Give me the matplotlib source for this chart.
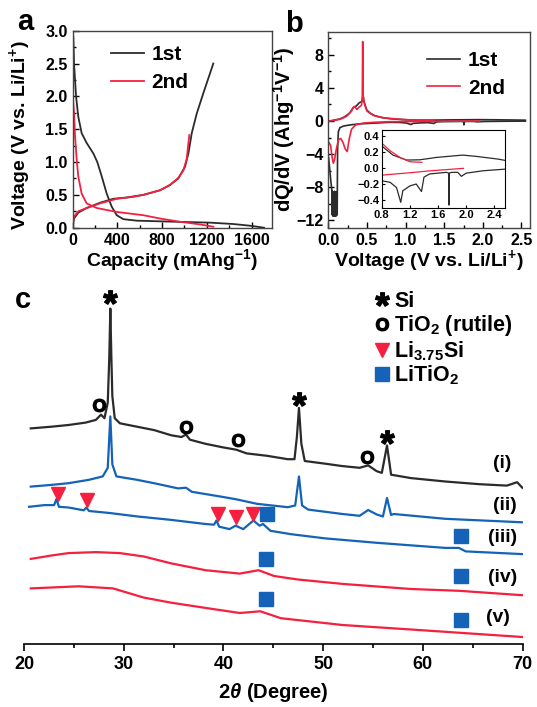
import matplotlib
matplotlib.use("Agg")
import matplotlib.pyplot as plt
from matplotlib.ticker import MultipleLocator
from matplotlib.lines import Line2D

plt.rcParams["font.family"] = "Liberation Sans"
plt.rcParams["font.weight"] = "bold"
plt.rcParams["axes.labelweight"] = "bold"
plt.rcParams["mathtext.fontset"] = "custom"
plt.rcParams["mathtext.rm"] = "Liberation Sans:bold"
plt.rcParams["mathtext.bf"] = "Liberation Sans:bold"
plt.rcParams["mathtext.it"] = "Liberation Sans:italic:bold"
plt.rcParams["mathtext.default"] = "bf"

BLACK = "#2b2b2b"
RED = "#f5203f"
BLUE = "#1463b8"

# ---- panel a: galvanostatic curves ----
cap_dis1 = [0, 6, 12, 30, 50, 80, 125, 185, 220, 260, 304, 349, 394, 453, 573, 931, 1229, 1437, 1587, 1712]
v_dis1 = [2.98, 2.9, 2.5, 2.0, 1.69, 1.44, 1.29, 1.13, 1.0, 0.78, 0.52, 0.32, 0.19, 0.13, 0.107, 0.09, 0.077, 0.056, 0.03, 0.0]
cap_ch1 = [0, 12, 50, 125, 244, 363, 483, 632, 781, 870, 945, 1005, 1035, 1065, 1110, 1169, 1258]
v_ch1 = [0.02, 0.14, 0.23, 0.3, 0.38, 0.44, 0.46, 0.5, 0.57, 0.65, 0.75, 0.93, 1.13, 1.44, 1.74, 2.05, 2.5]
cap_dis2 = [0, 12, 21, 36, 50, 80, 125, 215, 394, 632, 781, 960, 1139, 1258]
v_dis2 = [2.02, 1.74, 1.39, 1.03, 0.78, 0.52, 0.37, 0.3, 0.24, 0.19, 0.14, 0.09, 0.05, 0.015]
cap_ch2 = [0, 12, 50, 125, 244, 394, 542, 632, 781, 870, 945, 990, 1020, 1043]
v_ch2 = [0.07, 0.17, 0.25, 0.3, 0.37, 0.44, 0.47, 0.5, 0.57, 0.65, 0.76, 0.87, 1.05, 1.41]

# ---- panel b: differential capacity ----
v_ch1b = [0.01, 0.05, 0.1, 0.15, 0.2, 0.24, 0.28, 0.3, 0.33, 0.36, 0.38, 0.4, 0.42, 0.44, 0.45,
          0.46, 0.48, 0.5, 0.55, 0.6, 0.7, 0.8, 0.96, 1.15, 1.34, 1.58, 1.95, 2.14, 2.45, 2.55]
dq_ch1b = [0.0, 0.05, 0.15, 0.25, 0.45, 0.7, 1.0, 1.3, 1.7, 1.8, 2.0, 2.2, 2.3, 2.4, 3.2,
           2.4, 1.8, 1.3, 0.9, 0.65, 0.4, 0.28, 0.166, 0.104, 0.107, 0.137, 0.166, 0.15, 0.116, 0.1]
v_ch2b = [0.02, 0.05, 0.1, 0.15, 0.2, 0.24, 0.27, 0.3, 0.32, 0.34, 0.37, 0.4, 0.43, 0.44,
          0.445, 0.45, 0.47, 0.5, 0.58, 0.65, 0.75, 0.8, 0.92, 1.06, 1.2, 1.37]
dq_ch2b = [0.0, 0.05, 0.12, 0.2, 0.4, 0.6, 0.9, 1.2, 1.6, 1.75, 1.4, 1.7, 1.9, 3.0,
           9.6, 3.0, 2.0, 1.2, 0.7, 0.5, 0.35, 0.316, 0.22, 0.137, 0.083, 0.075]
v_dis2b = [1.96, 1.5, 1.2, 0.8, 0.6, 0.45, 0.35, 0.3, 0.27, 0.245, 0.22, 0.19, 0.16, 0.13,
           0.1, 0.08, 0.065, 0.05, 0.03, 0.01]
dq_dis2b = [0.0, -0.03, -0.055, -0.085, -0.15, -0.25, -0.5, -1.0, -2.2, -3.7, -3.4, -2.6, -2.1, -2.3,
            -3.6, -4.7, -5.1, -4.4, -3.0, -2.6]
v_dis1b = [2.55, 2.24, 2.0, 1.93, 1.88, 1.79, 1.76, 1.755, 1.75, 1.72, 1.48, 1.4, 1.365, 1.34,
           1.29, 1.2, 1.1, 1.07, 1.01, 0.92, 0.8, 0.6, 0.4, 0.3, 0.2, 0.15, 0.13, 0.12,
           0.115, 0.112, 0.109, 0.106, 0.103, 0.1, 0.097, 0.094, 0.091, 0.088, 0.085, 0.082,
           0.079, 0.076, 0.073, 0.07, 0.067, 0.064, 0.061, 0.058, 0.055, 0.052, 0.049,
           0.045, 0.03, 0.02, 0.01, 0.003]
dq_dis1b = [-0.01, -0.03, -0.06, -0.1, -0.05, -0.05, -0.06, -0.46, -0.06, -0.05, -0.07, -0.11, -0.29, -0.26,
            -0.196, -0.22, -0.28, -0.425, -0.24, -0.175, -0.155, -0.25, -0.35, -0.45, -0.6, -0.8, -1.3, -3.5,
            -11.2, -8.6, -11.4, -8.6, -11.4, -8.7, -11.5, -8.6, -11.5, -8.6, -11.4, -8.5,
            -11.4, -8.6, -11.5, -8.7, -11.4, -8.6, -11.5, -8.6, -11.4, -8.5, -11.3,
            -8.3, -7.0, -6.0, -5.0, -4.4]

# ---- panel c: XRD patterns (offset, a.u.) ----
tt_i = [20.68, 22.75, 24.46, 26.18, 27.21, 27.72, 28.07, 28.4, 28.55, 28.66, 28.76, 28.86, 29.1, 29.62,
        31.33, 33.05, 34.77, 35.8, 36.25, 36.65, 38.2, 39.92, 41.29, 42.33, 44.38, 46.45, 47.13,
        47.37, 47.58, 47.82, 48.16, 50.22, 51.94, 53.66, 54.52, 55.38, 55.89, 56.41, 56.82,
        58.82, 62.25, 65.69, 68.43, 69.46, 69.98]
y_i = [21.56, 21.73, 21.9, 22.14, 22.41, 22.93, 22.58, 24.13, 28.5, 33.54, 28.8, 24.81, 22.58, 22.07,
       21.73, 21.39, 20.87, 20.7, 20.94, 20.43, 20.02, 19.67, 19.43, 19.06, 18.82, 18.48, 18.48,
       20.7, 23.61, 20.02, 18.3, 18.03, 17.79, 17.62, 17.86, 17.28, 17.11, 19.85, 16.93,
       16.59, 16.25, 15.98, 15.84, 16.18, 15.63]
tt_ii = [20.68, 22.75, 24.46, 26.52, 27.9, 28.4, 28.66, 28.86, 29.27, 31.33, 33.05, 35.45, 36.25, 36.83,
         39.92, 41.29, 43.35, 46.45, 47.2, 47.58, 47.89, 48.51, 51.94, 53.66, 54.52, 55.38, 56.0,
         56.41, 56.82, 57.09, 62.25, 69.98]
y_ii = [15.74, 15.91, 16.08, 16.42, 16.76, 17.62, 22.76, 17.96, 16.76, 16.42, 16.08, 15.56, 15.63, 15.22,
        14.71, 14.47, 14.02, 13.68, 13.85, 16.76, 13.85, 13.44, 13.0, 12.82, 13.4, 12.95, 12.75,
        14.6, 12.9, 13.0, 12.52, 12.17]
tt_iii = [20.51, 22.06, 23.02, 23.26, 23.5, 24.46, 26.0, 26.25, 26.52, 28.58, 31.33, 34.77, 38.2, 39.06,
          39.3, 39.58, 40.61, 41.22, 41.99, 43.01, 43.63, 43.97, 44.72, 46.79, 50.22, 55.38, 62.25,
          63.62, 64.31, 69.98]
y_iii = [13.72, 13.89, 13.89, 14.5, 13.72, 13.65, 13.37, 13.65, 13.3, 13.1, 12.76, 12.41, 12.0, 11.93,
         12.35, 11.73, 11.49, 11.83, 11.49, 12.35, 11.83, 12.0, 11.32, 10.98, 10.56, 10.12, 9.61,
         9.61, 9.26, 8.99]
tt_iv = [20.68, 22.75, 24.46, 27.21, 29.62, 32.02, 34.77, 38.2, 41.64, 43.53, 45.07, 47.47, 51.94,
         58.82, 63.62, 69.98]
y_iv = [8.51, 8.85, 9.09, 9.19, 9.09, 8.75, 8.06, 7.38, 7.04, 7.38, 6.8, 6.45, 6.01, 5.5, 5.32, 4.88]
tt_v = [20.68, 25.49, 28.93, 32.02, 34.77, 38.2, 41.64, 43.7, 45.76, 51.94, 58.82, 69.98]
y_v = [5.56, 5.77, 5.56, 4.64, 4.13, 3.61, 3.1, 3.27, 2.58, 1.9, 1.45, 0.7]
trace_labels = ["(i)", "(ii)", "(iii)", "(iv)", "(v)"]
label_tt = [67.95, 68.25, 68.05, 68.05, 67.54]
label_y = [18.0, 13.85, 10.63, 6.7, 2.6]

si_tt = [28.66, 47.58, 56.41]
si_y = [34.7, 24.5, 20.7]
tio2_tt = [27.48, 36.25, 41.46, 54.4]
tio2_y = [23.95, 21.73, 20.43, 18.72]
lisi_tt = [23.43, 26.28, 39.41, 41.22, 43.0]
lisi_y = [15.05, 14.37, 13.03, 12.7, 13.03]
litio2_tt = [44.37, 63.8, 44.3, 63.8, 44.3, 63.8]
litio2_y = [12.96, 10.8, 8.5, 6.8, 4.47, 2.41]

W, H = 537, 707
fig = plt.figure(figsize=(W / 100, H / 100), dpi=100)


def box(l, r, t, b):
    return [l / W, 1 - b / H, (r - l) / W, (b - t) / H]


def style_box(ax, size=11.5):
    ax.tick_params(which="both", direction="in", labelsize=size, width=1.0)
    ax.tick_params(which="major", length=4.5)
    ax.tick_params(which="minor", length=2.5)
    for s in ax.spines.values():
        s.set_linewidth(1.0)
        s.set_color("#444444")


# panel a
axa = fig.add_axes(box(72.7, 272, 30.7, 227.7))
axa.plot(cap_dis1, v_dis1, color=BLACK, lw=1.3, label="1st")
axa.plot(cap_ch1, v_ch1, color=BLACK, lw=1.3)
axa.plot(cap_dis2, v_dis2, color=RED, lw=1.3, label="2nd")
axa.plot(cap_ch2, v_ch2, color=RED, lw=1.3)
axa.set_xlim(0, 1783)
axa.set_ylim(0, 3.0)
axa.xaxis.set_major_locator(MultipleLocator(400))
axa.xaxis.set_minor_locator(MultipleLocator(200))
axa.yaxis.set_major_locator(MultipleLocator(0.5))
axa.yaxis.set_minor_locator(MultipleLocator(0.25))
style_box(axa)
axa.set_xlabel("Capacity (mAhg$^{-1}$)", fontsize=14, labelpad=0)
axa.set_ylabel("Voltage (V vs. Li/Li$^{+}$)", fontsize=14)
axa.yaxis.set_label_coords(-0.2, 0.47)
axa.legend(loc="upper left", bbox_to_anchor=(0.19, 0.925), frameon=False, fontsize=15,
           handlelength=1.6, handletextpad=0.35, labelspacing=0.4, borderpad=0, borderaxespad=0)

# panel b
axb = fig.add_axes(box(328.3, 530, 31.7, 227.7))
axb.plot(v_ch1b, dq_ch1b, color=BLACK, lw=1.2, label="1st")
axb.plot(v_dis1b, dq_dis1b, color=BLACK, lw=1.2)
axb.plot(v_ch2b, dq_ch2b, color=RED, lw=1.2, label="2nd")
axb.plot(v_dis2b, dq_dis2b, color=RED, lw=1.2)
axb.set_xlim(0, 2.61)
axb.set_ylim(-12.9, 10.8)
axb.xaxis.set_major_locator(MultipleLocator(0.5))
axb.xaxis.set_minor_locator(MultipleLocator(0.25))
axb.yaxis.set_major_locator(MultipleLocator(4))
axb.yaxis.set_minor_locator(MultipleLocator(2))
style_box(axb)
axb.set_xlabel("Voltage (V vs. Li/Li$^{+}$)", fontsize=14, labelpad=0)
axb.set_ylabel("dQ/dV (Ahg$^{-1}$V$^{-1}$)", fontsize=14.5)
axb.yaxis.set_label_coords(-0.155, 0.5)
axb.legend(loc="upper left", bbox_to_anchor=(0.49, 0.9), frameon=False, fontsize=15,
           handlelength=1.6, handletextpad=0.35, labelspacing=0.4, borderpad=0, borderaxespad=0)

# inset
axi = fig.add_axes(box(381.7, 505, 130, 207.5))
axi.plot(v_ch1b, dq_ch1b, color=BLACK, lw=0.9)
axi.plot(v_dis1b, dq_dis1b, color=BLACK, lw=0.9)
axi.plot(v_ch2b, dq_ch2b, color=RED, lw=0.9)
axi.plot(v_dis2b, dq_dis2b, color=RED, lw=0.9)
axi.set_xlim(0.8, 2.55)
axi.set_ylim(-0.49, 0.48)
axi.xaxis.set_major_locator(MultipleLocator(0.4))
axi.yaxis.set_major_locator(MultipleLocator(0.2))
axi.tick_params(direction="in", labelsize=8, length=2.5, width=0.8, pad=1.5)
for s in axi.spines.values():
    s.set_linewidth(0.8)

# panel c
axc = fig.add_axes(box(24, 522.5, 284, 644))
axc.plot(tt_i, y_i, color=BLACK, lw=1.6)
axc.plot(tt_ii, y_ii, color=BLUE, lw=1.6)
axc.plot(tt_iii, y_iii, color=BLUE, lw=1.6)
axc.plot(tt_iv, y_iv, color=RED, lw=1.6)
axc.plot(tt_v, y_v, color=RED, lw=1.6)
for lab, x, y in zip(trace_labels, label_tt, label_y):
    axc.text(x, y, lab, fontsize=14, ha="center", va="center")
axc.plot(si_tt, si_y, ls="none", marker="$*$", ms=10, color="black")
axc.plot(tio2_tt, tio2_y, ls="none", marker="$O$", ms=9, color="black")
axc.plot(lisi_tt, lisi_y, ls="none", marker="v", ms=9.5, color=RED, mec=RED)
axc.plot(litio2_tt, litio2_y, ls="none", marker="s", ms=9.5, color=BLUE, mec=BLUE)
axc.set_xlim(20, 70)
axc.set_ylim(0, 36)
axc.set_yticks([])
for s in ["left", "right", "top"]:
    axc.spines[s].set_visible(False)
axc.spines["bottom"].set_linewidth(1.2)
axc.xaxis.set_major_locator(MultipleLocator(10))
axc.xaxis.set_minor_locator(MultipleLocator(5))
axc.tick_params(which="both", direction="out", labelsize=13, width=1.2)
axc.tick_params(which="major", length=5)
axc.tick_params(which="minor", length=3)
axc.set_xlabel(r"2$\mathit{\theta}$ (Degree)", fontsize=14.5, labelpad=6)

handles = [
    Line2D([], [], ls="none", marker="$*$", ms=10, color="black"),
    Line2D([], [], ls="none", marker="$O$", ms=9, color="black"),
    Line2D([], [], ls="none", marker="v", ms=10, color=RED),
    Line2D([], [], ls="none", marker="s", ms=10, color=BLUE),
]
labels = ["Si", "TiO$_2$ (rutile)", "Li$_{3.75}$Si", "LiTiO$_2$"]
axc.legend(handles, labels, loc="upper left", bbox_to_anchor=(374 / W, 1 - 291 / H),
           bbox_transform=fig.transFigure, frameon=False, fontsize=15.5, handlelength=0.7,
           handletextpad=0.25, labelspacing=0.05, borderpad=0, borderaxespad=0)

fig.text(25 / W, 1 - 22 / H, "a", fontsize=21, ha="center", va="center")
fig.text(294 / W, 1 - 24 / H, "b", fontsize=21, ha="center", va="center")
fig.text(23 / W, 1 - 300 / H, "c", fontsize=21, ha="center", va="center")

fig.savefig("out.png", dpi=100)
